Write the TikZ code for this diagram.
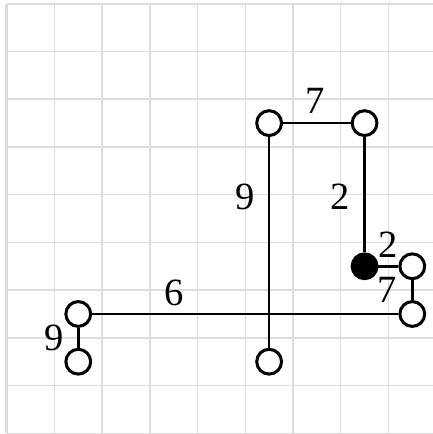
\documentclass[tikz,border=0pt]{standalone}
\usepackage{fontspec}
\setmainfont{Liberation Serif}
\definecolor{gridc}{RGB}{218,220,226}
\begin{document}
\begin{tikzpicture}[x=1cm,y=1cm,
  gridthin/.style={draw=gridc, line width=0.9pt},
  gridthick/.style={draw=gridc, line width=1.5pt},
  vtx/.style={circle, draw=black, fill=white, line width=1.8pt, minimum size=0.52cm, inner sep=0pt},
  vtxfill/.style={circle, draw=black, fill=black, line width=1.8pt, minimum size=0.52cm, inner sep=0pt},
  edge/.style={draw=black, line width=1.5pt},
  lbl/.style={font=\fontsize{23}{23}\selectfont, inner sep=0pt}]
\useasboundingbox (-0.14,-0.015) rectangle (8.92,9.08);
\fill[white] (-0.14,-0.015) rectangle (8.92,9.08);
% grid
\foreach \i in {1,2,4,5,7,8} {
  \draw[gridthin] (\i,0) -- (\i,9);
  \draw[gridthin] (0,\i) -- (9.2,\i);
}
\foreach \i in {3,6} {
  \draw[gridthick] (\i,0) -- (\i,9);
  \draw[gridthick] (0,\i) -- (9.2,\i);
}
\draw[gridthick] (0,0) -- (0,9);
\draw[gridthick] (0,9) -- (9.2,9);
\draw[gridthin] (0,0) -- (9.2,0);
% nodes
\coordinate (j) at (5.5,2.5);
\node[vtx] (a) at (5.5,6.5) {};
\node[vtx] (b) at (7.5,6.5) {};
\node[vtxfill] (c) at (7.5,3.5) {};
\node[vtx] (d) at (8.5,3.5) {};
\node[vtx] (e) at (8.5,2.5) {};
\node[vtx] (f) at (1.5,2.5) {};
\node[vtx] (g) at (1.5,1.5) {};
\node[vtx] (h) at (5.5,1.5) {};
% edges
\draw[edge] (a) -- (b);
\draw[edge] (a) -- (h);
\draw[edge] (b) -- (c);
\draw[edge] (c) -- (d);
\draw[edge] (d) -- (e);
\draw[edge] (f) -- (e);
\draw[edge] (f) -- (g);
% labels
\node[lbl] (l1) at (6.46,6.96) {7};
\node[lbl] (l2) at (4.99,4.96) {9};
\node[lbl] (l3) at (6.99,4.96) {2};
\node[lbl] (l4) at (7.99,3.95) {2};
\node[lbl] (l5) at (7.97,3.0) {7};
\node[lbl] (l6) at (3.51,2.95) {6};
\node[lbl] (l7) at (1.0,1.99) {9};
\end{tikzpicture}
\end{document}
